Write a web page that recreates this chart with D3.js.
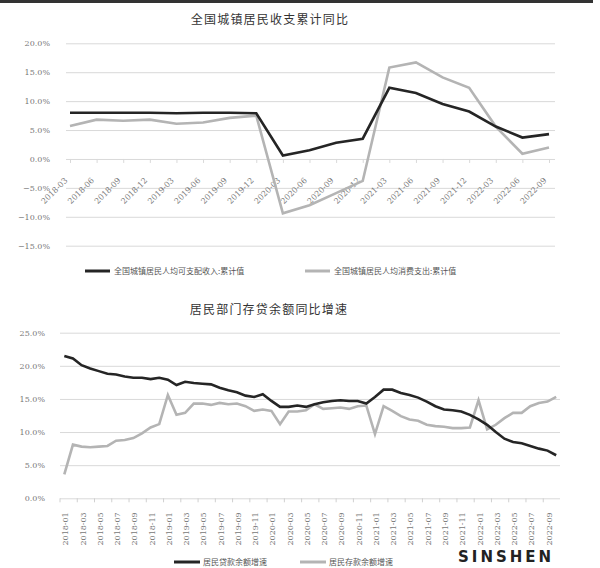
<!DOCTYPE html>
<html>
<head>
  <meta charset="utf-8">
  <script src="https://cdn.jsdelivr.net/npm/d3@7"></script>
  <style>
    body { margin: 0; background: #fff; }
    svg { font-family: 'Noto Sans CJK SC', sans-serif; }
    .tick line { stroke: #d9d9d9; }
    .axis text { fill: #777; font-size: 8px; font-family: 'DejaVu Serif', serif; }
    .domain { display: none; }
  </style>
</head>
<body>
<script>
  // top chart: quarterly cumulative y/y (%)
  var quarters = ["2018-03", "2018-06", "2018-09", "2018-12", "2019-03", "2019-06", "2019-09", "2019-12",
                  "2020-03", "2020-06", "2020-09", "2020-12", "2021-03", "2021-06", "2021-09", "2021-12",
                  "2022-03", "2022-06", "2022-09"];
  var income = [8.0, 8.0, 8.0, 8.0, 7.9, 8.0, 8.0, 7.9, 0.6, 1.5, 2.8, 3.5, 12.3, 11.4, 9.5, 8.2, 5.6, 3.7, 4.3];
  var spending = [5.7, 6.8, 6.6, 6.8, 6.1, 6.3, 7.1, 7.5, -9.4, -8.0, -5.9, -3.8, 15.8, 16.7, 14.1, 12.3, 5.6, 0.9, 2.0];
  var topTicks = [-15, -10, -5, 0, 5, 10, 15, 20];

  // bottom chart: monthly y/y growth (%)
  var months = ["2018-01", "2018-02", "2018-03", "2018-04", "2018-05", "2018-06", "2018-07", "2018-08", "2018-09", "2018-10", "2018-11", "2018-12",
                "2019-01", "2019-02", "2019-03", "2019-04", "2019-05", "2019-06", "2019-07", "2019-08", "2019-09", "2019-10", "2019-11", "2019-12",
                "2020-01", "2020-02", "2020-03", "2020-04", "2020-05", "2020-06", "2020-07", "2020-08", "2020-09", "2020-10", "2020-11", "2020-12",
                "2021-01", "2021-02", "2021-03", "2021-04", "2021-05", "2021-06", "2021-07", "2021-08", "2021-09", "2021-10", "2021-11", "2021-12",
                "2022-01", "2022-02", "2022-03", "2022-04", "2022-05", "2022-06", "2022-07", "2022-08", "2022-09", "2022-10"];
  var loans = [21.5, 21.1, 20.1, 19.6, 19.2, 18.8, 18.7, 18.4, 18.2, 18.2, 18.0, 18.2,
               17.9, 17.1, 17.6, 17.4, 17.3, 17.2, 16.7, 16.3, 16.0, 15.5, 15.3, 15.7,
               14.7, 13.8, 13.8, 14.0, 13.8, 14.2, 14.5, 14.7, 14.8, 14.7, 14.7, 14.3,
               15.3, 16.4, 16.4, 15.9, 15.6, 15.2, 14.6, 13.9, 13.4, 13.3, 13.1, 12.6,
               11.9, 11.1, 10.0, 9.0, 8.5, 8.3, 7.9, 7.5, 7.2, 6.5];
  var deposits = [3.6, 8.1, 7.8, 7.7, 7.8, 7.9, 8.7, 8.8, 9.1, 9.8, 10.7, 11.2,
                  15.6, 12.6, 12.9, 14.3, 14.3, 14.1, 14.4, 14.2, 14.3, 13.9, 13.2, 13.4,
                  13.2, 11.2, 13.1, 13.1, 13.3, 14.2, 13.5, 13.6, 13.7, 13.5, 13.9, 14.0,
                  9.7, 13.9, 13.2, 12.4, 11.9, 11.7, 11.1, 10.9, 10.8, 10.6, 10.6, 10.7,
                  14.8, 10.4, 11.1, 12.1, 12.9, 12.9, 13.9, 14.4, 14.6, 15.3];
  var bottomTicks = [0, 5, 10, 15, 20, 25];

  var dark = "#252525", light = "#b4b4b4";
  var pct = function (d) { return d3.format(".1f")(d) + "%"; };

  var svg = d3.select("body").append("svg")
      .attr("width", 600)
      .attr("height", 568);

  // frame bar along the top edge
  svg.append("rect").attr("x", 0).attr("y", 0).attr("width", 593).attr("height", 3).attr("fill", "#333");

  /* ---------- top chart ---------- */
  var x1 = d3.scalePoint().domain(quarters).range([70, 549]);
  var y1 = d3.scaleLinear().domain([-15, 20]).range([245.7, 43.3]);

  svg.append("text")
      .attr("x", 270).attr("y", 24)
      .attr("text-anchor", "middle")
      .attr("font-size", 12).attr("letter-spacing", 1.2)
      .attr("fill", "#333")
      .text("全国城镇居民收支累计同比");

  svg.append("g")
      .attr("class", "axis")
      .attr("transform", "translate(66,0)")
      .call(d3.axisLeft(y1).tickValues(topTicks).tickSize(-489).tickPadding(16).tickFormat(pct))
      .selectAll(".tick line").attr("stroke", "#dcdcdc");

  var xa1 = svg.append("g")
      .attr("class", "axis")
      .attr("transform", "translate(0," + y1(0) + ")")
      .call(d3.axisBottom(x1).tickSize(4).tickFormat(""));
  xa1.selectAll(".tick line").attr("stroke", "#d0d0d0");

  svg.append("g").selectAll("text")
      .data(quarters)
    .enter().append("text")
      .attr("transform", function (d) { return "translate(" + (x1(d) - 2) + "," + (y1(0) + 22) + ") rotate(-45)"; })
      .attr("text-anchor", "end")
      .attr("font-size", 8)
      .attr("font-family", "'DejaVu Serif', serif")
      .attr("fill", "#777")
      .text(function (d) { return d; });

  var line1 = d3.line()
      .x(function (d, i) { return x1(quarters[i]); })
      .y(function (d) { return y1(d); });

  svg.append("path").datum(spending)
      .attr("d", line1).attr("fill", "none").attr("stroke", light).attr("stroke-width", 2.6);
  svg.append("path").datum(income)
      .attr("d", line1).attr("fill", "none").attr("stroke", dark).attr("stroke-width", 2.6);

  var leg1 = [
    { name: "全国城镇居民人均可支配收入:累计值", color: dark, x: 85 },
    { name: "全国城镇居民人均消费支出:累计值", color: light, x: 305 }
  ];
  leg1.forEach(function (l) {
    svg.append("line").attr("x1", l.x).attr("x2", l.x + 25).attr("y1", 271).attr("y2", 271)
        .attr("stroke", l.color).attr("stroke-width", 3);
    svg.append("text").attr("x", l.x + 29).attr("y", 274)
        .attr("font-size", 8).attr("fill", "#555").text(l.name);
  });

  /* ---------- bottom chart ---------- */
  var x2 = d3.scaleBand().domain(months).range([60, 560.5]);
  var y2 = d3.scaleLinear().domain([0, 25]).range([498.3, 332.7]);
  var cx = function (d) { return x2(d) + x2.bandwidth() / 2; };

  svg.append("text")
      .attr("x", 269).attr("y", 314)
      .attr("text-anchor", "middle")
      .attr("font-size", 12).attr("letter-spacing", 1.2)
      .attr("fill", "#333")
      .text("居民部门存贷余额同比增速");

  svg.append("g")
      .attr("class", "axis")
      .attr("transform", "translate(60,0)")
      .call(d3.axisLeft(y2).tickValues(bottomTicks).tickSize(-500).tickPadding(15).tickFormat(pct))
      .selectAll(".tick line").attr("stroke", "#dcdcdc");

  // tick marks between categories, every second month
  var bounds = months.filter(function (d, i) { return i % 2 === 0; });
  svg.append("g").selectAll("line")
      .data(bounds)
    .enter().append("line")
      .attr("x1", function (d) { return x2(d); })
      .attr("x2", function (d) { return x2(d); })
      .attr("y1", y2(0)).attr("y2", y2(0) + 4)
      .attr("stroke", "#d0d0d0");

  svg.append("g").selectAll("text")
      .data(bounds)
    .enter().append("text")
      .attr("transform", function (d) { return "translate(" + (cx(d) + 4) + "," + (y2(0) + 14) + ") rotate(-90)"; })
      .attr("text-anchor", "end")
      .attr("font-size", 8)
      .attr("font-family", "'DejaVu Serif', serif")
      .attr("fill", "#777")
      .text(function (d) { return d; });

  var line2 = d3.line()
      .x(function (d, i) { return cx(months[i]); })
      .y(function (d) { return y2(d); });

  svg.append("path").datum(deposits)
      .attr("d", line2).attr("fill", "none").attr("stroke", light).attr("stroke-width", 2.6);
  svg.append("path").datum(loans)
      .attr("d", line2).attr("fill", "none").attr("stroke", dark).attr("stroke-width", 2.6);

  var leg2 = [
    { name: "居民贷款余额增速", color: dark, x: 174 },
    { name: "居民存款余额增速", color: light, x: 300 }
  ];
  leg2.forEach(function (l) {
    svg.append("line").attr("x1", l.x).attr("x2", l.x + 26).attr("y1", 562).attr("y2", 562)
        .attr("stroke", l.color).attr("stroke-width", 3);
    svg.append("text").attr("x", l.x + 29).attr("y", 565)
        .attr("font-size", 8).attr("fill", "#555").text(l.name);
  });

  // watermark in the bottom corner
  svg.append("text")
      .attr("x", 458).attr("y", 562)
      .attr("font-size", 15).attr("font-weight", "bold")
      .attr("font-family", "'DejaVu Sans', sans-serif")
      .attr("letter-spacing", 3)
      .attr("fill", "#222")
      .text("SINSHEN");
</script>
</body>
</html>
